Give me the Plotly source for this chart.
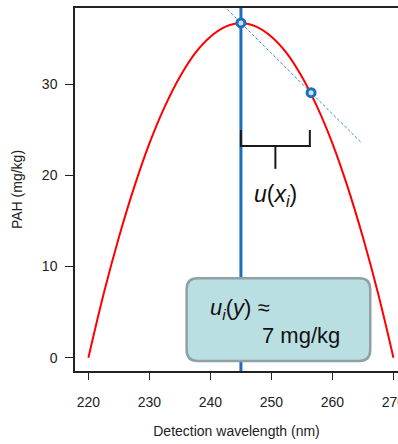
import plotly.graph_objects as go

# Data
wavelength = [220, 222.5, 225, 227.5, 230, 232.5, 235, 237.5, 240, 242.5, 245,
              247.5, 250, 252.5, 255, 257.5, 260, 262.5, 265, 267.5, 270]
pah = [0.0, 7.0, 13.2, 18.7, 23.5, 27.5, 30.8, 33.4, 35.2, 36.3, 36.7,
       36.3, 35.2, 33.4, 30.8, 27.5, 23.5, 18.7, 13.2, 7.0, 0.0]
point_x = [245, 256.5]
point_y = [36.7, 29.05]
tangent_x = [241.6, 264.7]
tangent_y = [38.96, 23.6]
x_ticks = [220, 230, 240, 250, 260, 270]
y_ticks = [0, 10, 20, 30]

BLUE = "#1a6fc0"
FONT = "Liberation Sans, Arial, sans-serif"

fig = go.Figure()
fig.add_trace(go.Scatter(x=wavelength, y=pah, mode="lines",
                         line=dict(color="#ff0000", width=2, shape="spline"),
                         hoverinfo="skip"))
fig.add_trace(go.Scatter(x=tangent_x, y=tangent_y, mode="lines",
                         line=dict(color="#2b8fd8", width=1, dash="3px,2px"),
                         cliponaxis=False, hoverinfo="skip"))
fig.add_trace(go.Scatter(x=point_x, y=point_y, mode="markers",
                         marker=dict(size=8, color="#cfe2f5",
                                     line=dict(color=BLUE, width=3)),
                         cliponaxis=False, hoverinfo="skip"))

# vertical line at peak
fig.add_shape(type="line", x0=point_x[0], x1=point_x[0], y0=0, y1=1,
              xref="x", yref="paper", line=dict(color=BLUE, width=3), layer="below")

# bracket
bx0, bx1 = point_x[0], point_x[1] - 0.2
by, btop, bstem = 23.2, 24.96, 20.7
bmid = (bx0 + bx1) / 2
bracket = dict(color="#1a1a1a", width=2)
fig.add_shape(type="path",
              path=f"M {bx0},{btop} L {bx0},{by} L {bx1},{by} L {bx1},{btop}",
              line=bracket)
fig.add_shape(type="line", x0=bmid, x1=bmid, y0=by, y1=bstem, line=bracket)

# rounded box
x0, x1, y0, y1 = 236.1, 266.2, -0.37, 8.7
rx, ry = 1.8, 1.2
path = (f"M {x0+rx},{y0} L {x1-rx},{y0} Q {x1},{y0} {x1},{y0+ry} "
        f"L {x1},{y1-ry} Q {x1},{y1} {x1-rx},{y1} L {x0+rx},{y1} "
        f"Q {x0},{y1} {x0},{y1-ry} L {x0},{y0+ry} Q {x0},{y0} {x0+rx},{y0} Z")
fig.add_shape(type="path", path=path, fillcolor="#badfe3",
              line=dict(color="#8fa1a4", width=2.5), layer="above")

fig.add_annotation(x=250.6, y=17.8, text="<i>u</i>(<i>x<sub>i</sub></i>)",
                   showarrow=False, font=dict(size=23, color="#111", family=FONT),
                   xanchor="center", yanchor="middle")
fig.add_annotation(x=239.6, y=5.33, text="<i>u<sub>i</sub></i>(<i>y</i>) ≈",
                   showarrow=False, font=dict(size=22, color="#111", family=FONT),
                   xanchor="left", yanchor="middle")
fig.add_annotation(x=248.2, y=2.48, text="7 mg/kg",
                   showarrow=False, font=dict(size=22, color="#111", family=FONT),
                   xanchor="left", yanchor="middle")

fig.update_layout(
    width=398, height=444,
    margin=dict(l=75, r=0, t=8, b=73),
    plot_bgcolor="white", paper_bgcolor="white",
    showlegend=False,
    font=dict(family=FONT, size=14, color="#222"),
    xaxis=dict(range=[217.8, 270.75], tickvals=x_ticks, showgrid=False, zeroline=False,
               showline=True, mirror=True, linecolor="#222", linewidth=1.5,
               ticks="outside", ticklen=7, tickcolor="#222", tickwidth=1.2,
               ticklabeloverflow="allow", ticklabelstandoff=10, automargin=False,
               title=dict(text="Detection wavelength (nm)", font=dict(size=14), standoff=18)),
    yaxis=dict(range=[-1.46, 38.34], tickvals=y_ticks, showgrid=False, zeroline=False,
               showline=True, mirror=False, linecolor="#222", linewidth=1.5,
               ticks="outside", ticklen=8, tickcolor="#222", tickwidth=1.2,
               ticklabelstandoff=5, automargin=False,
               title=dict(text="PAH (mg/kg)", font=dict(size=14), standoff=16)),
)

fig.write_html("out.html", config={"displayModeBar": False},
               post_script="document.body.style.margin='0';document.body.style.overflow='hidden';")
